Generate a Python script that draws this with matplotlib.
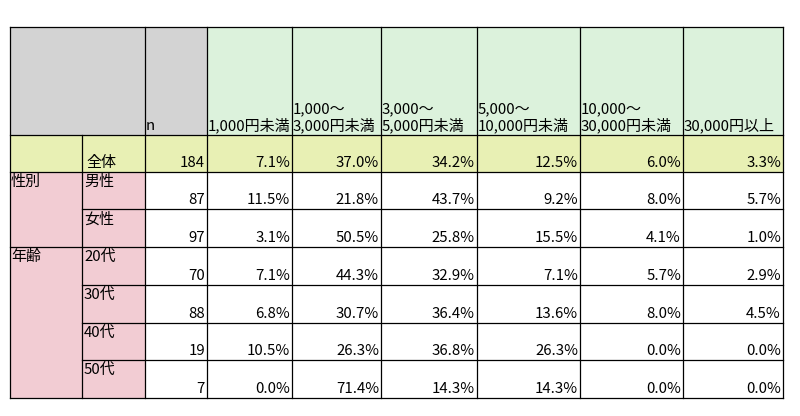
import matplotlib
matplotlib.use("Agg")
import matplotlib.pyplot as plt
from matplotlib.patches import Rectangle

plt.rcParams["font.family"] = ["Noto Sans CJK JP"]

headers = ["n", "1,000円未満", "1,000～\n3,000円未満", "3,000～\n5,000円未満", "5,000～\n10,000円未満",
           "10,000～\n30,000円未満", "30,000円以上"]
groups = ["", "性別", "", "年齢", "", "", ""]
rows = ["全体", "男性", "女性", "20代", "30代", "40代", "50代"]
n_values = [184, 87, 97, 70, 88, 19, 7]
pct = [
    [7.1, 37.0, 34.2, 12.5, 6.0, 3.3],
    [11.5, 21.8, 43.7, 9.2, 8.0, 5.7],
    [3.1, 50.5, 25.8, 15.5, 4.1, 1.0],
    [7.1, 44.3, 32.9, 7.1, 5.7, 2.9],
    [6.8, 30.7, 36.4, 13.6, 8.0, 4.5],
    [10.5, 26.3, 36.8, 26.3, 0.0, 0.0],
    [0.0, 71.4, 14.3, 14.3, 0.0, 0.0],
]

xs = [10, 82, 145, 207, 292, 381, 477, 580, 683, 783]
ys = [27, 135, 172, 209, 247, 285, 323, 360, 398]
GRAY, GREEN, YEL, PINK = "#d3d3d3", "#dcf2dc", "#e8f0b4", "#f2ccd3"

fig = plt.figure(figsize=(8, 4.16), dpi=100)
ax = fig.add_axes([0, 0, 1, 1])
ax.set_xlim(0, 800); ax.set_ylim(416, 0); ax.axis("off")

def cell(x0, x1, y0, y1, c):
    ax.add_patch(Rectangle((x0, y0), x1 - x0, y1 - y0, facecolor=c, edgecolor="none"))

cell(xs[0], xs[3], ys[0], ys[1], GRAY)
cell(xs[3], xs[-1], ys[0], ys[1], GREEN)
cell(xs[0], xs[-1], ys[1], ys[2], YEL)
cell(xs[0], xs[2], ys[2], ys[-1], PINK)

fs = 10.8
lk = dict(color="black", lw=0.9)
for i, x in enumerate(xs):
    if i == 1:
        ax.plot([x, x], [ys[1], ys[-1]], **lk)
    else:
        ax.plot([x, x], [ys[0], ys[-1]], **lk)
for j, y in enumerate(ys):
    x0 = xs[0]
    if j in (3, 5, 6, 7):
        x0 = xs[1]
    ax.plot([x0, xs[-1]], [y, y], **lk)

for k, h in enumerate(headers):
    ax.text(xs[k + 2] + 1, ys[1] - 2, h, fontsize=fs, ha="left", va="bottom", linespacing=1.05)

for r in range(len(rows)):
    y0, y1 = ys[r + 1], ys[r + 2]
    if groups[r]:
        ax.text(xs[0] + 1, y0 + 3, groups[r], fontsize=fs, ha="left", va="top")
    if r == 0:
        ax.text(xs[1] + 4, y1 - 2, rows[r], fontsize=fs, ha="left", va="bottom")
    else:
        ax.text(xs[1] + 2, y0 + 3, rows[r], fontsize=fs, ha="left", va="top")
    ax.text(xs[3] - 2, y1 - 2, f"{n_values[r]}", fontsize=fs, ha="right", va="bottom")
    for c, v in enumerate(pct[r]):
        ax.text(xs[c + 4] - 2, y1 - 2, f"{v:.1f}%", fontsize=fs, ha="right", va="bottom")

fig.savefig("out.png", dpi=100, facecolor="white")
